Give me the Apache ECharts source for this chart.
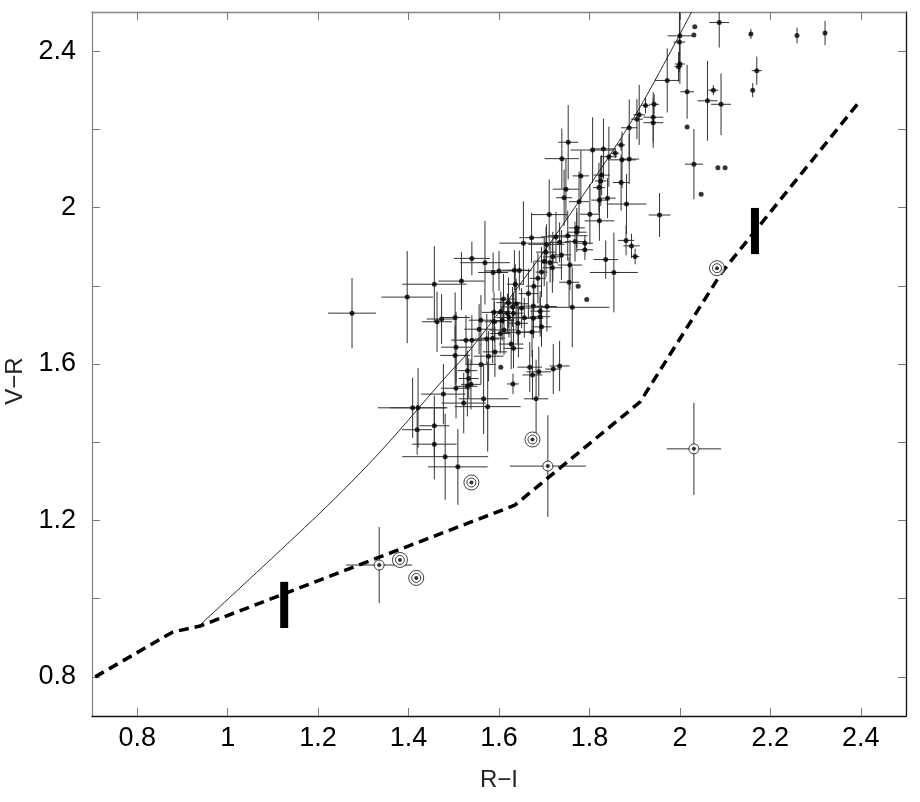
<!DOCTYPE html>
<html><head><meta charset="utf-8">
<script src="https://cdn.jsdelivr.net/npm/echarts@6/dist/echarts.min.js"></script>
<style>html,body{margin:0;padding:0;background:#fff}#c{width:920px;height:802px}</style>
</head><body><div id="c"></div>
<script>
// Tick positions
const xTicks = [0.8, 1.0, 1.2, 1.4, 1.6, 1.8, 2.0, 2.2, 2.4];
const yTicks = [0.8, 1.0, 1.2, 1.4, 1.6, 1.8, 2.0, 2.2, 2.4];
const yLabelValues = [0.8, 1.2, 1.6, 2.0, 2.4];

// Stars: [R-I, V-R, err(R-I), err(V-R)]
const stars = [
[2.087,2.473,0.022,0.064],[2.157,2.444,0,0.013],[2.259,2.440,0,0.020],[2.321,2.446,0,0.031],
[2.170,2.350,0.011,0.036],[2.161,2.300,0,0.018],[2.074,2.300,0.011,0.013],[2.061,2.273,0.022,0.102],
[2.091,2.264,0.022,0.079],[2.016,2.296,0.015,0.069],[2.016,2.206,0,0],[2.033,2.462,0,0],
[2.031,2.441,0,0],[2.000,2.439,0.027,0.077],[1.999,2.423,0.013,0.077],[2.000,2.367,0.011,0.051],
[1.997,2.360,0.009,0.038],[1.972,2.325,0.027,0.082],[1.924,2.261,0.009,0.020],[1.943,2.264,0.011,0.026],
[1.910,2.237,0.013,0.077],[1.905,2.226,0.013,0.051],[1.941,2.231,0.022,0.064],[1.941,2.217,0.022,0.064],
[1.888,2.204,0.018,0.072],[1.870,2.160,0.009,0.015],[1.857,2.139,0.009,0.013],[1.831,2.150,0.027,0.077],
[1.807,2.147,0.049,0.084],[1.753,2.167,0.022,0.095],[1.739,2.125,0.038,0.077],[1.843,2.130,0.018,0.077],
[1.872,2.122,0.031,0.072],[1.888,2.124,0.022,0.064],[2.031,2.111,0.020,0.090],[2.047,2.034,0,0],
[2.084,2.102,0,0],[2.100,2.102,0,0],[1.955,1.981,0.024,0.056],[1.827,2.083,0.018,0.051],
[1.781,2.081,0.018,0.064],[1.825,2.068,0.013,0.064],[1.821,2.051,0.013,0.064],[1.748,2.047,0.029,0.077],
[1.744,2.025,0.018,0.072],[1.870,2.064,0.018,0.072],[1.840,2.024,0.018,0.051],[1.822,2.019,0.018,0.064],
[1.777,2.015,0.022,0.077],[1.882,2.009,0.044,0.077],[1.711,1.982,0.040,0.090],[1.801,1.983,0.022,0.077],
[1.822,1.966,0.033,0.051],[1.772,1.948,0.018,0.051],[1.772,1.937,0.022,0.051],[1.752,1.928,0.044,0.064],
[1.726,1.925,0.033,0.064],[1.734,1.911,0.022,0.051],[1.705,1.906,0.040,0.051],[1.768,1.913,0.022,0.051],
[1.790,1.909,0.018,0.020],[1.790,1.892,0.018,0.026],[1.881,1.916,0.018,0.038],[1.893,1.902,0.018,0.031],
[1.901,1.875,0.009,0.020],[1.672,1.923,0.027,0.064],[1.654,1.909,0.053,0.107],[1.704,1.886,0.022,0.064],
[1.719,1.874,0.022,0.064],[1.738,1.879,0.022,0.064],[1.700,1.863,0.022,0.064],[1.713,1.859,0.018,0.051],
[1.836,1.867,0.027,0.049],[1.854,1.834,0.053,0.102],[1.757,1.853,0.027,0.064],[1.718,1.846,0.022,0.064],
[1.540,1.870,0.040,0.043],[1.569,1.859,0.055,0.107],[1.587,1.834,0.033,0.051],[1.600,1.838,0.033,0.051],
[1.634,1.840,0.027,0.051],[1.645,1.839,0.027,0.051],[1.517,1.812,0.051,0.074],[1.457,1.804,0.071,0.097],
[1.397,1.771,0.057,0.118],[1.275,1.730,0.053,0.090],[1.636,1.804,0.018,0.051],[1.694,1.835,0.013,0.064],
[1.686,1.819,0.018,0.064],[1.677,1.799,0.018,0.064],[1.665,1.780,0.022,0.064],[1.755,1.809,0.022,0.064],
[1.775,1.799,0,0],[1.794,1.765,0,0],[1.762,1.745,0.082,0.102],[1.706,1.747,0.022,0.064],
[1.676,1.748,0.022,0.064],[1.691,1.735,0.022,0.051],[1.694,1.695,0.022,0.051],[1.610,1.766,0.027,0.064],
[1.621,1.757,0.027,0.064],[1.638,1.754,0.027,0.064],[1.630,1.746,0.027,0.051],[1.650,1.743,0.022,0.051],
[1.604,1.734,0.022,0.051],[1.619,1.729,0.022,0.051],[1.589,1.732,0.027,0.051],[1.590,1.708,0.022,0.051],
[1.607,1.711,0.027,0.051],[1.622,1.719,0.027,0.051],[1.632,1.730,0.022,0.051],[1.656,1.718,0.027,0.051],
[1.676,1.717,0.022,0.051],[1.691,1.721,0.022,0.051],[1.642,1.704,0.022,0.051],[1.560,1.712,0.027,0.064],
[1.556,1.689,0.033,0.064],[1.463,1.708,0.033,0.077],[1.473,1.715,0.033,0.064],[1.503,1.719,0.033,0.064],
[1.611,1.687,0.033,0.064],[1.643,1.681,0.033,0.064],[1.673,1.682,0.022,0.064],[1.603,1.678,0.022,0.051],
[1.573,1.664,0.027,0.064],[1.586,1.666,0.027,0.064],[1.505,1.643,0.033,0.090],[1.527,1.661,0.033,0.064],
[1.540,1.661,0.027,0.064],[1.627,1.651,0.027,0.064],[1.632,1.640,0.022,0.051],[1.503,1.622,0.033,0.077],
[1.530,1.583,0.022,0.051],[1.533,1.563,0.022,0.051],[1.530,1.543,0.022,0.077],[1.538,1.548,0.022,0.064],
[1.560,1.599,0.033,0.051],[1.577,1.620,0.033,0.064],[1.591,1.631,0.027,0.064],[1.604,1.592,0,0],
[1.631,1.549,0.013,0.026],[1.668,1.592,0.027,0.064],[1.674,1.572,0.022,0.064],[1.688,1.580,0.027,0.064],
[1.682,1.511,0.027,0.100],[1.720,1.587,0.018,0.064],[1.734,1.595,0.022,0.064],[1.505,1.538,0.033,0.077],
[1.477,1.523,0.049,0.077],[1.566,1.511,0.055,0.090],[1.522,1.500,0.049,0.077],[1.575,1.491,0.073,0.115],
[1.409,1.488,0.077,0.077],[1.421,1.488,0.062,0.102],[1.419,1.432,0.033,0.064],[1.457,1.442,0.033,0.077],
[1.457,1.395,0.049,0.090],[1.481,1.363,0.095,0.110],[1.509,1.337,0.066,0.097]
];

// Double-ringed objects: [R-I, V-R]
const doubleCircled = [[2.082,1.845],[1.674,1.407],[1.539,1.297],[1.381,1.099],[1.417,1.053]];

// Single-ringed objects with errors: [R-I, V-R, err(R-I), err(V-R)]
const ringedWithErr = [[1.708,1.339,0.084,0.130],[2.031,1.383,0.060,0.118],[1.335,1.086,0.073,0.097]];

// Dashed track
const dashedTrack = [[0.707,0.800],[0.879,0.915],[0.939,0.930],[1.635,1.239],[1.912,1.503],[2.093,1.835],[2.398,2.272]];

// Thin solid track
const solidTrack = [[0.939,0.933],[1.204,1.219],[1.337,1.375],[1.476,1.559],[1.536,1.636],[1.691,1.874],[1.816,2.083],[1.912,2.257],[2.026,2.500]];

// Thick vertical bars: [R-I, V-R low, V-R high]
const thickBars = [[1.125,0.925,1.043],[2.166,1.881,1.999]];

const FONT = 'Liberation Sans, Arial, sans-serif';
const fmt = v => String(Math.round(v * 10) / 10);

function errRender(params, api) {
  const x = api.value(0), y = api.value(1), ex = api.value(2), ey = api.value(3);
  const ch = [];
  const st = {stroke: '#333', lineWidth: 1};
  if (ex > 0) {
    const a = api.coord([x - ex, y]), b = api.coord([x + ex, y]);
    ch.push({type: 'line', shape: {x1: a[0], y1: a[1], x2: b[0], y2: b[1]}, style: st});
  }
  if (ey > 0) {
    const a = api.coord([x, y - ey]), b = api.coord([x, y + ey]);
    ch.push({type: 'line', shape: {x1: a[0], y1: a[1], x2: b[0], y2: b[1]}, style: st});
  }
  return {type: 'group', children: ch};
}

function barRender(params, api) {
  const x = api.value(0), y0 = api.value(1), y1 = api.value(2);
  const a = api.coord([x, y0]), b = api.coord([x, y1]);
  return {type: 'rect', shape: {x: a[0] - 4, y: b[1], width: 8, height: a[1] - b[1]}, style: {fill: '#000'}};
}

const axisCommon = {type: 'value', min: 0.7, max: 2.5, splitLine: {show: false}};
const tickStyle = {color: '#777', width: 1};

const chart = echarts.init(document.getElementById('c'));
chart.setOption({
  animation: false,
  backgroundColor: '#fff',
  grid: {left: 92, right: 14, top: 12, bottom: 86, containLabel: false, outerBoundsMode: 'none'},
  xAxis: [
    Object.assign({}, axisCommon, {
      position: 'bottom',
      axisLine: {show: true, onZero: false, lineStyle: {color: '#111', width: 1.3}},
      axisTick: {show: true, inside: true, length: 8, customValues: xTicks, lineStyle: tickStyle},
      axisLabel: {show: true, customValues: xTicks, formatter: fmt, fontSize: 27, color: '#000', margin: 9, fontFamily: FONT},
      name: 'R\u2212I', nameLocation: 'middle', nameGap: 52,
      nameTextStyle: {fontSize: 24, color: '#222', fontFamily: FONT}
    }),
    Object.assign({}, axisCommon, {
      position: 'top',
      axisLine: {show: true, onZero: false, lineStyle: {color: '#888', width: 1.3}},
      axisTick: {show: true, inside: true, length: 8, customValues: xTicks, lineStyle: tickStyle},
      axisLabel: {show: false}
    })
  ],
  yAxis: [
    Object.assign({}, axisCommon, {
      position: 'left',
      axisLine: {show: true, onZero: false, lineStyle: {color: '#888', width: 1.3}},
      axisTick: {show: true, inside: true, length: 8, customValues: yTicks, lineStyle: tickStyle},
      axisLabel: {show: true, customValues: yLabelValues, formatter: fmt, fontSize: 27, color: '#000', margin: 16, fontFamily: FONT},
      name: 'V\u2212R', nameLocation: 'middle', nameGap: 64,
      nameTextStyle: {fontSize: 24, color: '#222', fontFamily: FONT, padding: [0, 34, 0, 0]}
    }),
    Object.assign({}, axisCommon, {
      position: 'right',
      axisLine: {show: true, onZero: false, lineStyle: {color: '#111', width: 1.3}},
      axisTick: {show: true, inside: true, length: 8, customValues: yTicks, lineStyle: tickStyle},
      axisLabel: {show: false}
    })
  ],
  series: [
    {type: 'line', data: dashedTrack, showSymbol: false, symbol: 'none', smooth: false, clip: true,
     lineStyle: {color: '#000', width: 3.5, type: [10, 6], cap: 'butt'}, z: 3},
    {type: 'line', data: solidTrack, showSymbol: false, symbol: 'none', smooth: 0.3, clip: true,
     lineStyle: {color: '#111', width: 0.9}, z: 3},
    {type: 'custom', data: thickBars, renderItem: barRender, clip: true, z: 4},
    {type: 'custom', data: stars, renderItem: errRender, clip: true, z: 2},
    {type: 'custom', data: ringedWithErr, renderItem: errRender, clip: true, z: 2},
    {type: 'scatter', data: stars, symbol: 'circle', symbolSize: 5, itemStyle: {color: '#000'}, clip: true, z: 5},
    {type: 'scatter', data: doubleCircled, symbol: 'circle', symbolSize: 15,
     itemStyle: {color: '#fff', borderColor: '#111', borderWidth: 1}, z: 5},
    {type: 'scatter', data: doubleCircled, symbol: 'circle', symbolSize: 9,
     itemStyle: {color: '#fff', borderColor: '#111', borderWidth: 1}, z: 6},
    {type: 'scatter', data: doubleCircled, symbol: 'circle', symbolSize: 4, itemStyle: {color: '#000'}, z: 7},
    {type: 'scatter', data: ringedWithErr, symbol: 'circle', symbolSize: 10,
     itemStyle: {color: '#fff', borderColor: '#111', borderWidth: 1}, z: 6},
    {type: 'scatter', data: ringedWithErr, symbol: 'circle', symbolSize: 4, itemStyle: {color: '#000'}, z: 7}
  ]
});
</script>
</body></html>
